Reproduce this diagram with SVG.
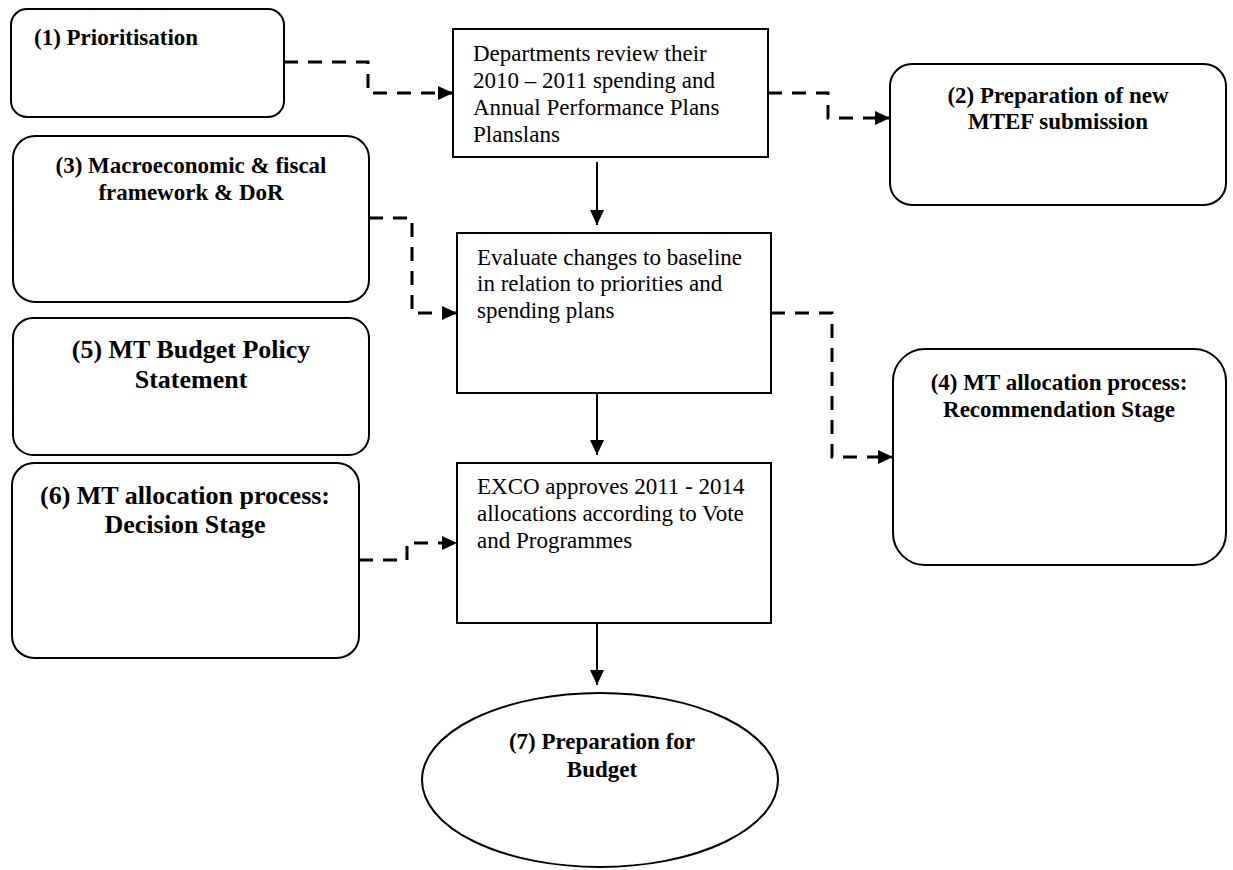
<svg xmlns="http://www.w3.org/2000/svg" width="1233" height="870" viewBox="0 0 1233 870">
<style>
.rr{fill:#fff;stroke:#000;stroke-width:2}
.bx{fill:#fff;stroke:#000;stroke-width:2}
.lb{font-family:"Liberation Serif","Times New Roman",serif;font-weight:bold;font-size:23px;fill:#000}
.lb2{font-family:"Liberation Serif","Times New Roman",serif;font-weight:bold;font-size:26px;fill:#000}
.tx{font-family:"Liberation Serif","Times New Roman",serif;font-size:23px;fill:#000}
.sol{fill:none;stroke:#000;stroke-width:2}
.dsh{fill:none;stroke:#000;stroke-width:3;stroke-dasharray:14 10}
</style>
<defs>
<marker id="ah" markerUnits="userSpaceOnUse" markerWidth="16" markerHeight="16" refX="15" refY="7" orient="auto">
<path d="M0,0 L15,7 L0,14 Z" fill="#000"/>
</marker>
</defs>
<rect width="1233" height="870" fill="#fff"/>
<g id="n1"><rect class="rr" x="11" y="9" width="273" height="108" rx="16"/>
<text class="lb" x="34" y="45">(1) Prioritisation</text></g>
<g id="n2"><rect class="rr" x="890" y="64" width="336" height="141" rx="22"/>
<text class="lb" x="1058" y="103" text-anchor="middle">(2) Preparation of new</text>
<text class="lb" x="1058" y="129" text-anchor="middle">MTEF submission</text></g>
<g id="n3"><rect class="rr" x="13" y="136" width="356" height="166" rx="22"/>
<text class="lb" x="191" y="173" text-anchor="middle">(3) Macroeconomic &amp; fiscal</text>
<text class="lb" x="191" y="200" text-anchor="middle">framework &amp; DoR</text></g>
<g id="n5"><rect class="rr" x="13" y="318" width="356" height="137" rx="20"/>
<text class="lb2" x="191" y="358" text-anchor="middle">(5) MT Budget Policy</text>
<text class="lb2" x="191" y="388" text-anchor="middle">Statement</text></g>
<g id="n6"><rect class="rr" x="12" y="463" width="347" height="195" rx="22"/>
<text class="lb2" x="185" y="504" text-anchor="middle">(6) MT allocation process:</text>
<text class="lb2" x="185" y="533" text-anchor="middle">Decision Stage</text></g>
<g id="n4"><rect class="rr" x="893" y="349" width="333" height="216" rx="32"/>
<text class="lb" x="1059" y="390" text-anchor="middle">(4) MT allocation process:</text>
<text class="lb" x="1059" y="417" text-anchor="middle">Recommendation Stage</text></g>
<g id="bA"><rect class="bx" x="453" y="29" width="315" height="128"/>
<text class="tx" x="473" y="61">Departments review their</text>
<text class="tx" x="473" y="88">2010 – 2011 spending and</text>
<text class="tx" x="473" y="115">Annual Performance Plans</text>
<text class="tx" x="473" y="142">Planslans</text></g>
<g id="bB"><rect class="bx" x="457" y="233" width="314" height="160"/>
<text class="tx" x="477" y="265">Evaluate changes to baseline</text>
<text class="tx" x="477" y="291">in relation to priorities and</text>
<text class="tx" x="477" y="318">spending plans</text></g>
<g id="bC"><rect class="bx" x="457" y="463" width="314" height="160"/>
<text class="tx" x="477" y="494">EXCO approves 2011 - 2014</text>
<text class="tx" x="477" y="521">allocations according to Vote</text>
<text class="tx" x="477" y="548">and Programmes</text></g>
<g id="n7"><ellipse class="rr" cx="600" cy="780" rx="178" ry="87"/>
<text class="lb" x="602" y="749" text-anchor="middle">(7) Preparation for</text>
<text class="lb" x="602" y="777" text-anchor="middle">Budget</text></g>
<g id="connectors">
<path class="sol" d="M597,162 V225" marker-end="url(#ah)"/>
<path class="sol" d="M597,393 V455" marker-end="url(#ah)"/>
<path class="sol" d="M597,623 V685" marker-end="url(#ah)"/>
<path class="dsh" d="M284,62 H368 V93 H453" marker-end="url(#ah)"/>
<path class="dsh" d="M768,93 H828 V118 H890" marker-end="url(#ah)"/>
<path class="dsh" d="M369,218 H412 V313 H457" marker-end="url(#ah)"/>
<path class="dsh" d="M771,313 H832 V457 H893" marker-end="url(#ah)"/>
<path class="dsh" d="M359,560 H407 V543 H457" marker-end="url(#ah)"/>
</g>
</svg>
